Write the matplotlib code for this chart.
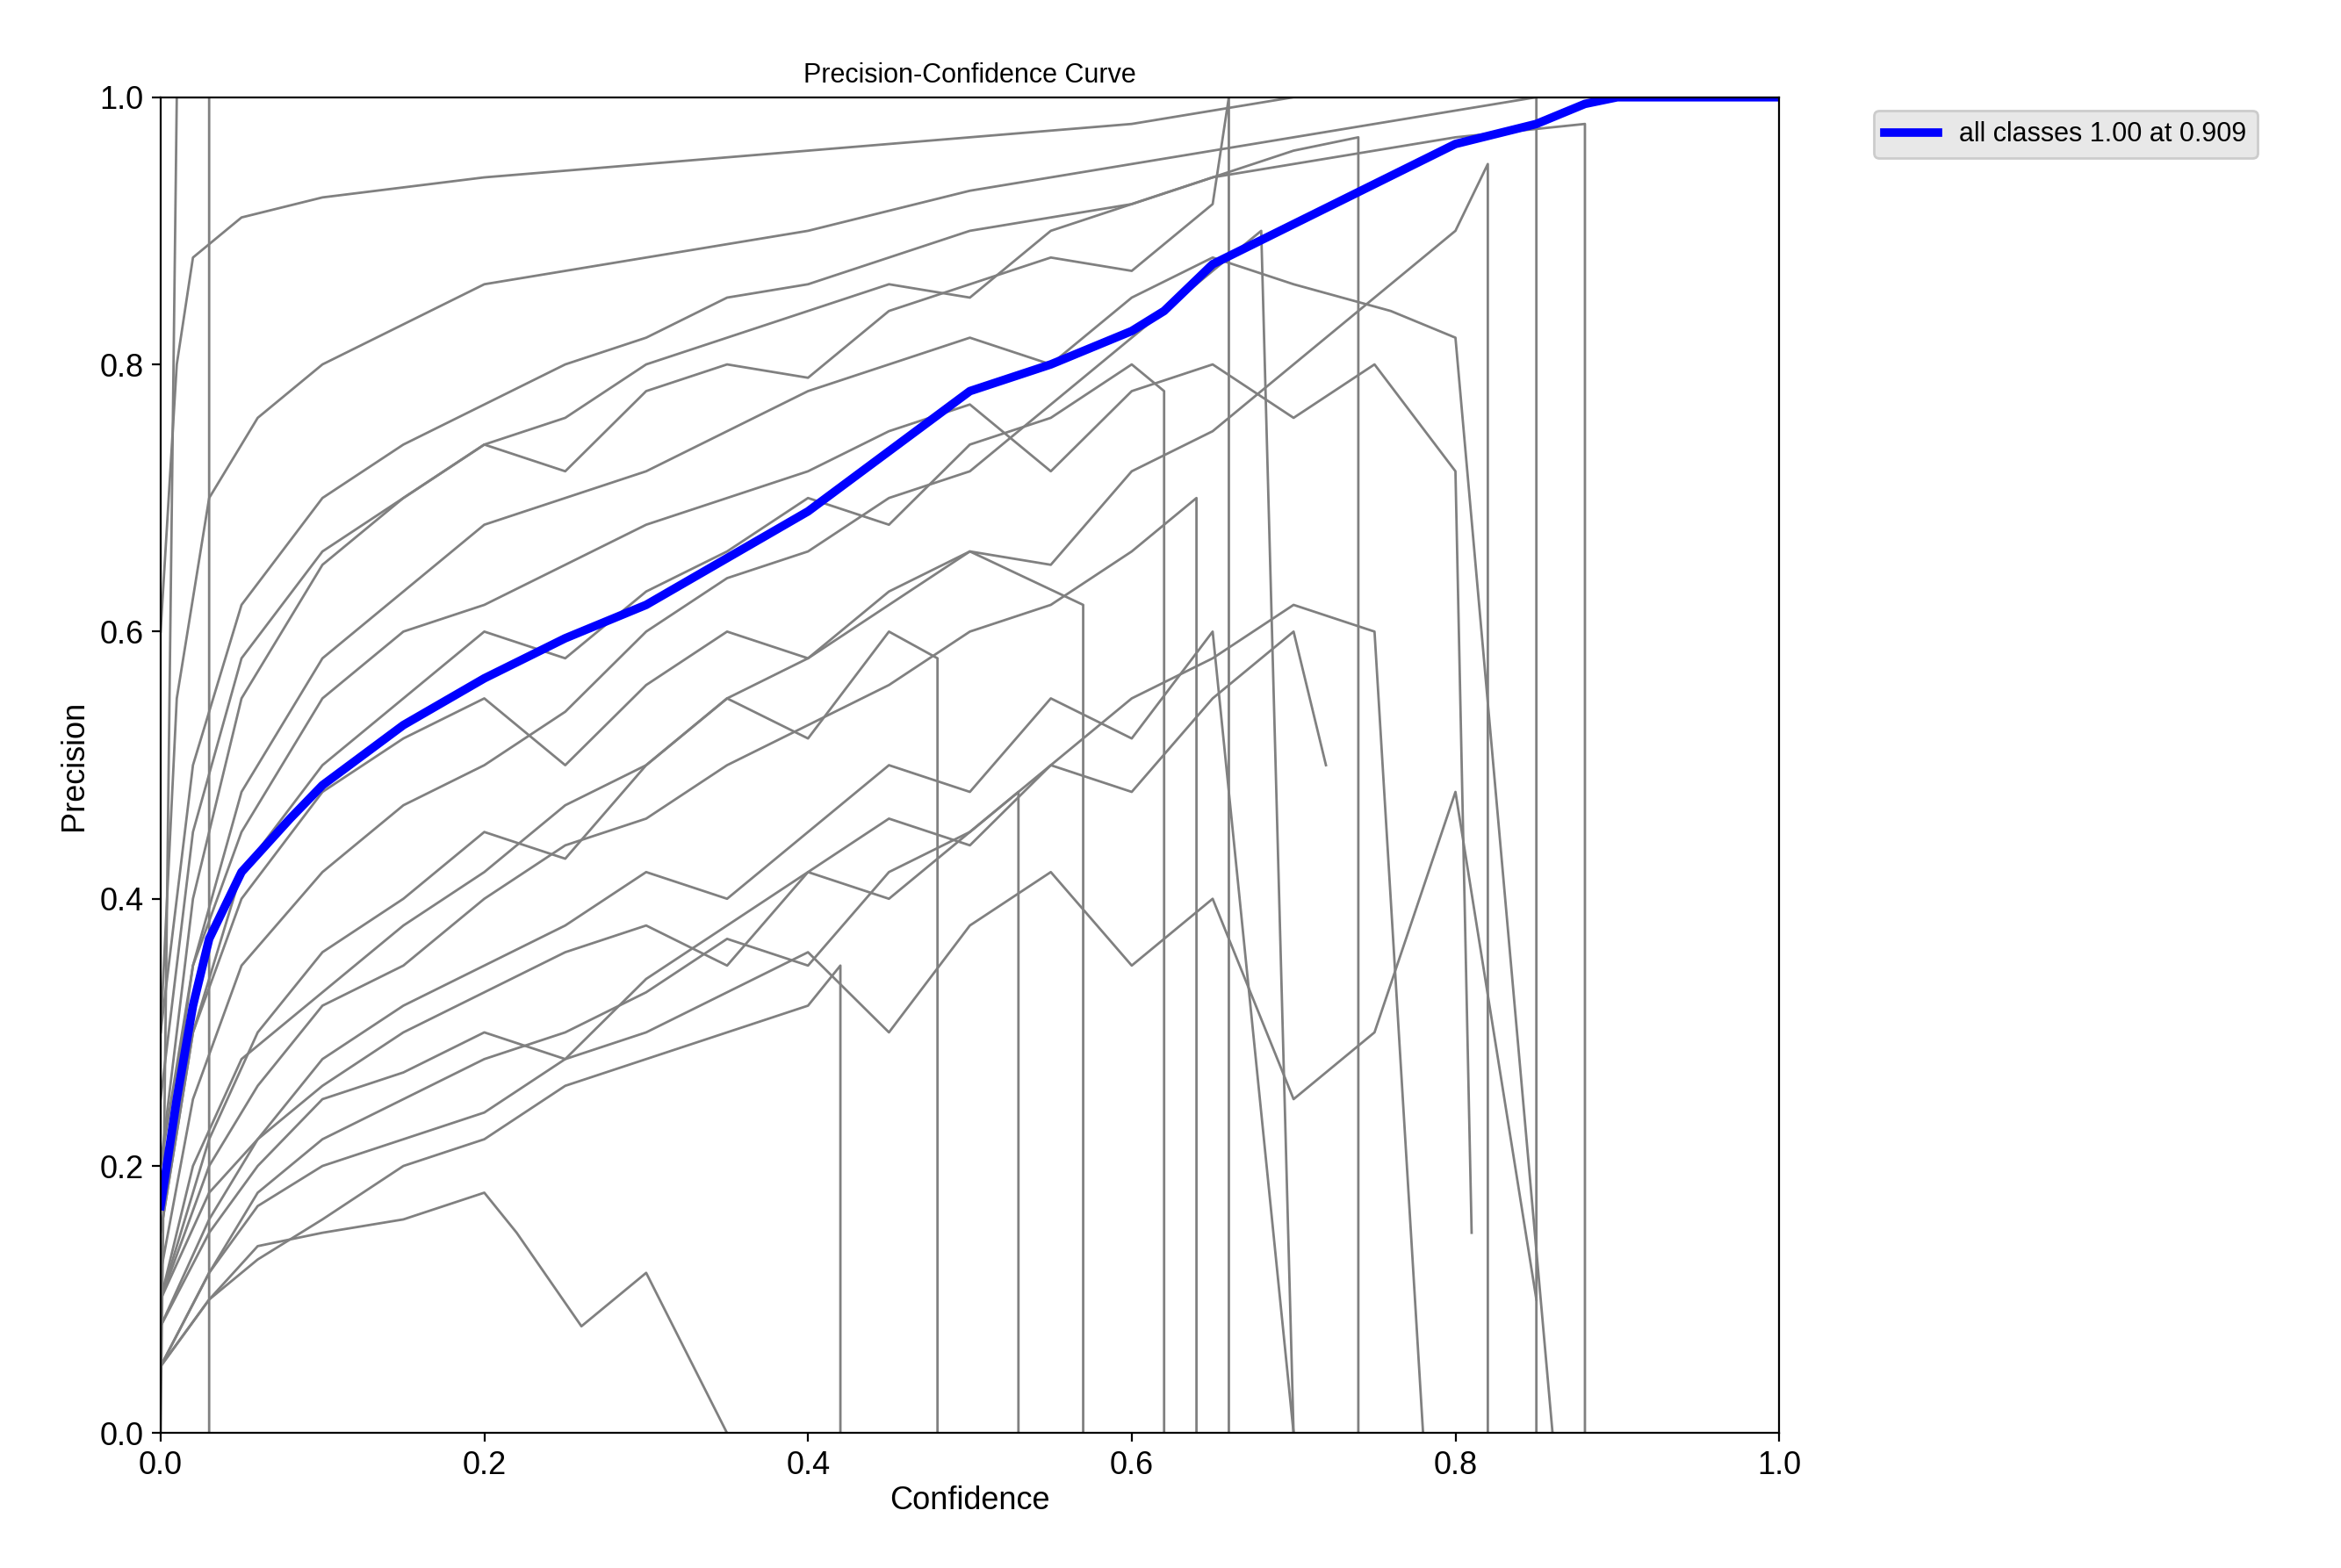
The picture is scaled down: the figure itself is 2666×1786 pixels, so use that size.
import matplotlib
matplotlib.use("Agg")
import matplotlib.pyplot as plt

plt.rcParams['font.family'] = ['Liberation Sans', 'DejaVu Sans']

blue_x = [0, 0.01, 0.02, 0.03, 0.05, 0.08, 0.1, 0.15, 0.2, 0.25, 0.3, 0.35, 0.4, 0.45, 0.5, 0.55, 0.6, 0.62, 0.65, 0.7, 0.75, 0.8, 0.85, 0.88, 0.9, 1.0]
blue_y = [0.17, 0.25, 0.32, 0.37, 0.42, 0.46, 0.485, 0.53, 0.565, 0.595, 0.62, 0.655, 0.69, 0.735, 0.78, 0.80, 0.825, 0.84, 0.875, 0.905, 0.935, 0.965, 0.98, 0.995, 1.0, 1.0]

gray_curves = [
    ([0, 0.01, 0.02, 0.05, 0.1, 0.2, 0.3, 0.4, 0.5, 0.6, 0.65, 0.7, 0.8, 0.9, 1.0],
     [0.6, 0.8, 0.88, 0.91, 0.925, 0.94, 0.95, 0.96, 0.97, 0.98, 0.99, 1.0, 1.0, 1.0, 1.0]),
    ([0, 0.01, 0.03, 0.06, 0.1, 0.15, 0.2, 0.3, 0.4, 0.5, 0.6, 0.7, 0.8, 0.85, 0.85],
     [0.3, 0.55, 0.7, 0.76, 0.8, 0.83, 0.86, 0.88, 0.9, 0.93, 0.95, 0.97, 0.99, 1.0, 0.0]),
    ([0, 0.02, 0.05, 0.1, 0.15, 0.2, 0.25, 0.3, 0.35, 0.4, 0.45, 0.5, 0.55, 0.6, 0.65, 0.66, 0.66],
     [0.2, 0.4, 0.55, 0.65, 0.7, 0.74, 0.72, 0.78, 0.8, 0.79, 0.84, 0.86, 0.88, 0.87, 0.92, 1.0, 0.0]),
    ([0, 0.02, 0.05, 0.1, 0.15, 0.2, 0.25, 0.3, 0.35, 0.4, 0.45, 0.5, 0.55, 0.6, 0.62, 0.62],
     [0.15, 0.3, 0.42, 0.5, 0.55, 0.6, 0.58, 0.63, 0.66, 0.7, 0.68, 0.74, 0.76, 0.8, 0.78, 0.0]),
    ([0, 0.03, 0.06, 0.1, 0.15, 0.2, 0.25, 0.3, 0.35, 0.4, 0.45, 0.48, 0.48],
     [0.1, 0.22, 0.3, 0.36, 0.4, 0.45, 0.43, 0.5, 0.55, 0.52, 0.6, 0.58, 0.0]),
    ([0, 0.03, 0.06, 0.1, 0.15, 0.2, 0.25, 0.3, 0.35, 0.4, 0.45, 0.5, 0.55, 0.6, 0.65, 0.7, 0.72],
     [0.05, 0.12, 0.18, 0.22, 0.25, 0.28, 0.3, 0.33, 0.37, 0.35, 0.42, 0.45, 0.5, 0.48, 0.55, 0.6, 0.5]),
    ([0, 0.02, 0.05, 0.1, 0.15, 0.2, 0.25, 0.3, 0.35, 0.4, 0.45, 0.5, 0.55, 0.6, 0.65, 0.7, 0.75, 0.8, 0.82, 0.82],
     [0.1, 0.2, 0.28, 0.33, 0.38, 0.42, 0.47, 0.5, 0.55, 0.58, 0.62, 0.66, 0.65, 0.72, 0.75, 0.8, 0.85, 0.9, 0.95, 0.0]),
    ([0, 0.03, 0.06, 0.1, 0.15, 0.2, 0.22, 0.26, 0.3, 0.35],
     [0.05, 0.1, 0.14, 0.15, 0.16, 0.18, 0.15, 0.08, 0.12, 0.0]),
    ([0, 0.02, 0.05, 0.1, 0.15, 0.2, 0.25, 0.3, 0.35, 0.4, 0.45, 0.5, 0.55, 0.6, 0.64, 0.68, 0.7],
     [0.12, 0.25, 0.35, 0.42, 0.47, 0.5, 0.54, 0.6, 0.64, 0.66, 0.7, 0.72, 0.77, 0.82, 0.86, 0.9, 0.0]),
    ([0, 0.03, 0.06, 0.1, 0.15, 0.2, 0.25, 0.3, 0.35, 0.4, 0.45, 0.5, 0.53, 0.53],
     [0.08, 0.15, 0.2, 0.25, 0.27, 0.3, 0.28, 0.34, 0.38, 0.42, 0.4, 0.45, 0.48, 0.0]),
    ([0, 0.02, 0.05, 0.1, 0.15, 0.2, 0.25, 0.3, 0.35, 0.4, 0.45, 0.5, 0.55, 0.6, 0.65, 0.7, 0.74, 0.74],
     [0.25, 0.45, 0.58, 0.66, 0.7, 0.74, 0.76, 0.8, 0.82, 0.84, 0.86, 0.85, 0.9, 0.92, 0.94, 0.96, 0.97, 0.0]),
    ([0, 0.03, 0.06, 0.1, 0.15, 0.2, 0.25, 0.3, 0.35, 0.4, 0.45, 0.5, 0.55, 0.6, 0.65, 0.7, 0.75, 0.8, 0.85],
     [0.05, 0.12, 0.17, 0.2, 0.22, 0.24, 0.28, 0.3, 0.33, 0.36, 0.3, 0.38, 0.42, 0.35, 0.4, 0.25, 0.3, 0.48, 0.1]),
    ([0, 0.02, 0.05, 0.1, 0.15, 0.2, 0.25, 0.3, 0.35, 0.4, 0.45, 0.5, 0.55, 0.6, 0.65, 0.7, 0.75, 0.8, 0.81],
     [0.2, 0.35, 0.45, 0.55, 0.6, 0.62, 0.65, 0.68, 0.7, 0.72, 0.75, 0.77, 0.72, 0.78, 0.8, 0.76, 0.8, 0.72, 0.15]),
    ([0, 0.02, 0.05, 0.1, 0.15, 0.2, 0.25, 0.3, 0.35, 0.4, 0.45, 0.5, 0.57, 0.57],
     [0.15, 0.3, 0.4, 0.48, 0.52, 0.55, 0.5, 0.56, 0.6, 0.58, 0.63, 0.66, 0.62, 0.0]),
    ([0, 0.03, 0.06, 0.1, 0.15, 0.2, 0.25, 0.3, 0.35, 0.4, 0.45, 0.5, 0.55, 0.6, 0.65, 0.7],
     [0.1, 0.18, 0.22, 0.28, 0.32, 0.35, 0.38, 0.42, 0.4, 0.45, 0.5, 0.48, 0.55, 0.52, 0.6, 0.0]),
    ([0, 0.02, 0.05, 0.1, 0.15, 0.2, 0.25, 0.3, 0.35, 0.4, 0.45, 0.5, 0.55, 0.6, 0.65, 0.7, 0.75, 0.8, 0.88, 0.88],
     [0.3, 0.5, 0.62, 0.7, 0.74, 0.77, 0.8, 0.82, 0.85, 0.86, 0.88, 0.9, 0.91, 0.92, 0.94, 0.95, 0.96, 0.97, 0.98, 0.0]),
    ([0, 0.03, 0.06, 0.1, 0.15, 0.2, 0.25, 0.3, 0.35, 0.4, 0.45, 0.5, 0.55, 0.6, 0.65, 0.7, 0.75, 0.78],
     [0.08, 0.16, 0.22, 0.26, 0.3, 0.33, 0.36, 0.38, 0.35, 0.42, 0.46, 0.44, 0.5, 0.55, 0.58, 0.62, 0.6, 0.0]),
    ([0, 0.02, 0.05, 0.1, 0.15, 0.2, 0.25, 0.3, 0.35, 0.4, 0.45, 0.5, 0.55, 0.6, 0.65, 0.7, 0.76, 0.8, 0.86],
     [0.18, 0.35, 0.48, 0.58, 0.63, 0.68, 0.7, 0.72, 0.75, 0.78, 0.8, 0.82, 0.8, 0.85, 0.88, 0.86, 0.84, 0.82, 0.0]),
    ([0, 0.03, 0.06, 0.1, 0.15, 0.2, 0.25, 0.3, 0.35, 0.4, 0.45, 0.5, 0.55, 0.6, 0.64, 0.64],
     [0.1, 0.2, 0.26, 0.32, 0.35, 0.4, 0.44, 0.46, 0.5, 0.53, 0.56, 0.6, 0.62, 0.66, 0.7, 0.0]),
    ([0, 0.03, 0.06, 0.1, 0.15, 0.2, 0.25, 0.3, 0.35, 0.4, 0.42, 0.42],
     [0.05, 0.1, 0.13, 0.16, 0.2, 0.22, 0.26, 0.28, 0.3, 0.32, 0.35, 0.0]),
    ([0, 0.005, 0.01, 0.03, 0.03],
     [0.0, 0.5, 1.0, 1.0, 0.0]),
]

fig = plt.figure(figsize=(13.33, 8.93), dpi=200)
ax = fig.add_axes([0.0686, 0.086, 0.6914, 0.852])
for gx, gy in gray_curves:
    ax.plot(gx, gy, color="grey", linewidth=1.0)
ax.plot(blue_x, blue_y, color="blue", linewidth=3.5, label="all classes 1.00 at 0.909")
ax.set_xlim(0, 1)
ax.set_ylim(0, 1)
ax.set_xlabel("Confidence", fontsize=13, labelpad=2)
ax.set_ylabel("Precision", fontsize=13)
ax.set_title("Precision-Confidence Curve", fontsize=11)
ax.tick_params(labelsize=13)
leg = ax.legend(bbox_to_anchor=(1.05, 1), loc="upper left", fontsize=11,
                facecolor="#e8e8e8", framealpha=1.0, edgecolor="#cccccc")
fig.savefig("out.png", dpi=200)
